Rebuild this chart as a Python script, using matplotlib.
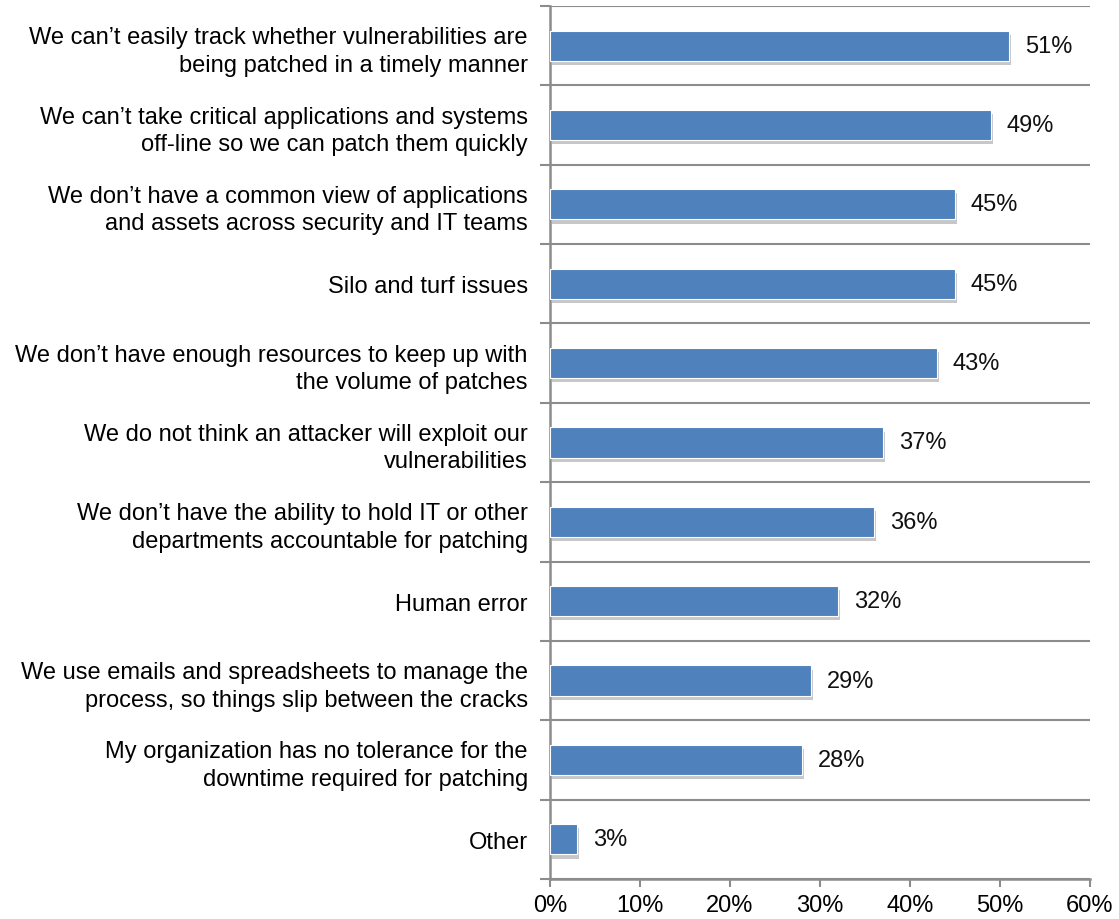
import matplotlib
matplotlib.use("Agg")
import matplotlib.pyplot as plt
import matplotlib.patheffects as pe
import numpy as np

plt.rcParams["font.family"] = ["Liberation Sans", "DejaVu Sans"]

categories = [
    "We can\u2019t easily track whether vulnerabilities are\nbeing patched in a timely manner",
    "We can\u2019t take critical applications and systems\noff-line so we can patch them quickly",
    "We don\u2019t have a common view of applications\nand assets across security and IT teams",
    "Silo and turf issues",
    "We don\u2019t have enough resources to keep up with\nthe volume of patches",
    "We do not think an attacker will exploit our\nvulnerabilities",
    "We don\u2019t have the ability to hold IT or other\ndepartments accountable for patching",
    "Human error",
    "We use emails and spreadsheets to manage the\nprocess, so things slip between the cracks",
    "My organization has no tolerance for the\ndowntime required for patching",
    "Other",
]
values = [51, 49, 45, 45, 43, 37, 36, 32, 29, 28, 3]
x_ticks = [0, 10, 20, 30, 40, 50, 60]

bar_color = "#4F81BD"
line_color = "#8C8C8C"
fs = 17

fig = plt.figure(figsize=(11.19, 9.2), dpi=100)
ax = fig.add_axes([0.4915, 0.0435, 0.4825, 0.9489])

y = np.arange(len(categories))
bars = ax.barh(y, values, height=0.38, color=bar_color, edgecolor="white",
               linewidth=0.8, zorder=3)
for b in bars:
    b.set_path_effects([pe.SimplePatchShadow(offset=(1.5, -3), shadow_rgbFace="#000000",
                                             alpha=0.22), pe.Normal()])

ax.bar_label(bars, labels=[f"{v}%" for v in values], padding=11.5, fontsize=fs,
             color="#111111")

ax.set_xlim(0, 60)
ax.set_ylim(len(categories) - 0.5, -0.5)

ax.set_xticks(x_ticks)
ax.set_xticklabels([f"{t}%" for t in x_ticks], fontsize=fs)
ax.tick_params(axis="x", length=6, width=1.5, color=line_color, pad=5)

ax.set_yticks(y)
ax.set_yticklabels(categories, fontsize=fs, ha="right", multialignment="right",
                   linespacing=1.32)
ax.tick_params(axis="y", which="major", length=0, pad=16)
ax.set_yticks(np.arange(len(categories) + 1) - 0.5, minor=True)
ax.tick_params(axis="y", which="minor", length=7, width=1.5, color=line_color)
ax.grid(axis="y", which="minor", color=line_color, linewidth=1.5, zorder=1)
ax.set_axisbelow(True)

for side in ("top", "right"):
    ax.spines[side].set_visible(False)
for side in ("left", "bottom"):
    ax.spines[side].set_color(line_color)
    ax.spines[side].set_linewidth(1.8)

fig.savefig("out.png", dpi=100, facecolor="white")
